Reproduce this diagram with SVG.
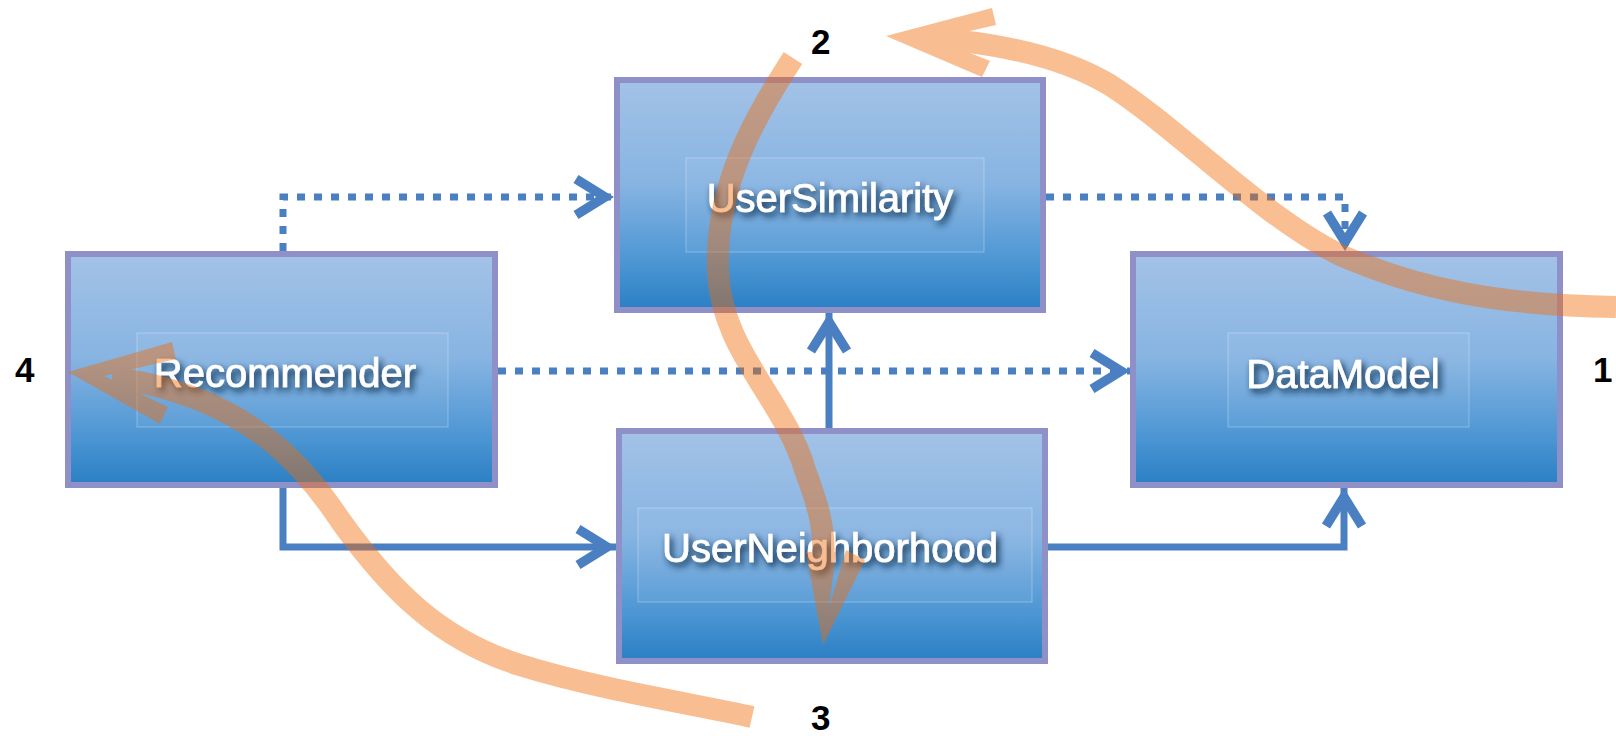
<svg xmlns="http://www.w3.org/2000/svg" width="1616" height="736" viewBox="0 0 1616 736">
<defs>
<linearGradient id="boxg" x1="0" y1="0" x2="0" y2="1">
<stop offset="0" stop-color="#a3c2e7"/>
<stop offset="0.45" stop-color="#87b4e2"/>
<stop offset="0.8" stop-color="#4b95d3"/>
<stop offset="1" stop-color="#2a7fc3"/>
</linearGradient>
<filter id="shadow" x="-20%" y="-50%" width="140%" height="200%">
<feGaussianBlur in="SourceAlpha" stdDeviation="3.5" result="b"/>
<feOffset in="b" dx="3" dy="4" result="o"/>
<feFlood flood-color="#0c2242" flood-opacity="1"/>
<feComposite in2="o" operator="in" result="s"/>
<feMerge><feMergeNode in="s"/><feMergeNode in="SourceGraphic"/></feMerge>
</filter>
<marker id="arr" markerUnits="userSpaceOnUse" viewBox="-50 -25 56 50" markerWidth="56" markerHeight="50" refX="0" refY="0" orient="auto" overflow="visible">
<path d="M-38,-18 L-9,0 L-38,18" fill="none" stroke="#4a7fc1" stroke-width="9.5" stroke-linejoin="miter" stroke-miterlimit="10"/>
</marker>
</defs>
<style>
.box{fill:url(#boxg);stroke:#9090c8;stroke-width:6}
.inner{fill:#ffffff;fill-opacity:0.05;stroke:#ffffff;stroke-opacity:0.3;stroke-width:1}
.lbl{font-family:"Liberation Sans",Arial,sans-serif;font-size:40px;fill:#ffffff;stroke:#ffffff;stroke-width:0.7;text-anchor:middle;filter:url(#shadow)}
.num{font-family:"Liberation Sans",Arial,sans-serif;font-size:35px;font-weight:bold;fill:#000000}
.con{fill:none;stroke:#4a7fc1;stroke-width:7}
.dot{stroke-dasharray:8 9}
.flow{fill:none;stroke:#f16b07;stroke-width:22}
.head{fill:#f16b07;stroke:none}
</style>

<g id="connectors">
<path class="con dot" d="M283,251 V197 H614" marker-end="url(#arr)"/>
<path class="con dot" d="M1046,197 H1345 V251" marker-end="url(#arr)"/>
<path class="con dot" d="M498,371 H1130" marker-end="url(#arr)"/>
<path class="con" d="M829,428 V313" marker-end="url(#arr)"/>
<path class="con" d="M283,488 V547 H616" marker-end="url(#arr)"/>
<path class="con" d="M1048,547 H1344 V488" marker-end="url(#arr)"/>
</g>

<g id="node-usersimilarity">
<rect class="box" x="617" y="80" width="426" height="230"/>
<rect class="inner" x="686" y="158" width="298" height="94"/>
<text class="lbl" x="830" y="212">UserSimilarity</text>
</g>
<g id="node-recommender">
<rect class="box" x="68" y="254" width="427" height="231"/>
<rect class="inner" x="137" y="333" width="311" height="94"/>
<text class="lbl" x="285" y="387">Recommender</text>
</g>
<g id="node-datamodel">
<rect class="box" x="1133" y="254" width="427" height="231"/>
<rect class="inner" x="1228" y="333" width="241" height="94"/>
<text class="lbl" x="1343" y="388">DataModel</text>
</g>
<g id="node-userneighborhood">
<rect class="box" x="619" y="431" width="426" height="230"/>
<rect class="inner" x="638" y="508" width="394" height="94"/>
<text class="lbl" x="830" y="562">UserNeighborhood</text>
</g>

<g id="flow" opacity="0.44">
<path class="flow" d="M1616,307 C1500,305 1420,290 1340,255 C1260,215 1180,130 1110,85 C1060,55 990,42 925,38"/>
<polygon class="head" points="886,36 992,8 996,25 935,39 990,61 982,77"/>
<path class="flow" d="M793,58 C760,110 715,180 718,270 C720,350 785,400 805,470 C818,505 826,530 823,565"/>
<polygon class="head" points="823,645 806,552 836,552 829,608 846,550 865,560"/>
<path class="flow" d="M752,717 C700,705 600,690 520,665 C440,640 390,590 340,520 C300,460 260,425 200,400 C160,385 135,380 112,378"/>
<polygon class="head" points="68,372 172,342 176,359 104,376 168,407 160,424"/>
</g>

<g id="labels">
<text class="num" x="811" y="54">2</text>
<text class="num" x="15" y="382">4</text>
<text class="num" x="1593" y="382">1</text>
<text class="num" x="811" y="730">3</text>
</g>
</svg>
